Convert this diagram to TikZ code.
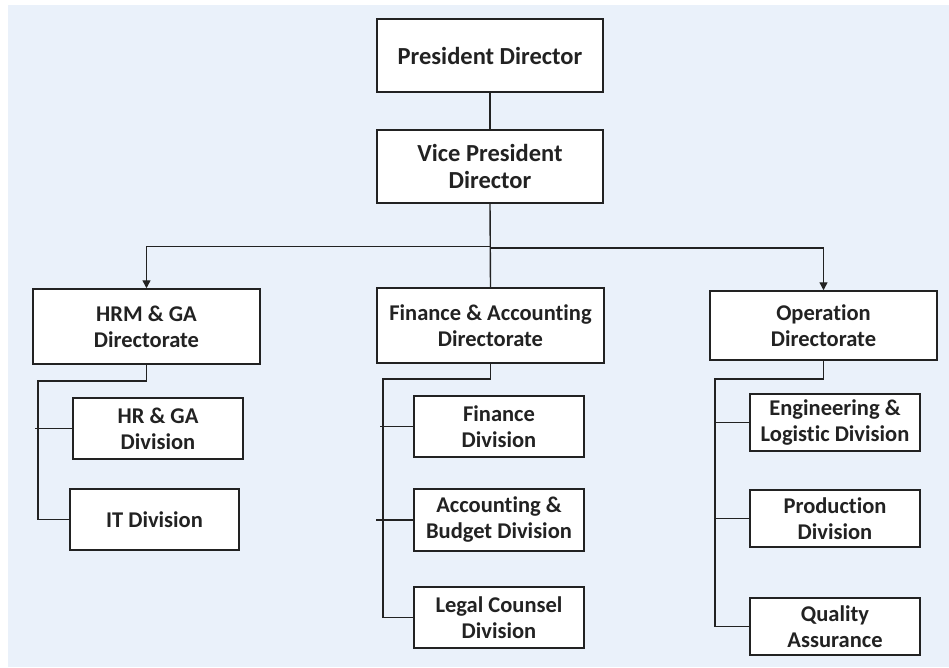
\documentclass[tikz,border=0pt]{standalone}
\usepackage{fontspec}
\setmainfont{Carlito}[Ligatures=NoCommon]
\usetikzlibrary{arrows.meta}
\definecolor{bgblue}{HTML}{EAF1FA}
\definecolor{ink}{HTML}{222222}
\tikzset{
  box/.style={draw=ink, line width=1.5pt, fill=white, text=ink, align=center, inner sep=0pt, font=\bfseries\fontsize{22.5}{26}\selectfont},
  bigbox/.style={box, font=\bfseries\fontsize{24.5}{27}\selectfont},
  conn/.style={draw=ink, line width=1.4pt},
  arr/.style={conn, -{Triangle[width=8pt,length=8pt]}}
}
\begin{document}
\begin{tikzpicture}[x=1pt,y=-1pt]
\useasboundingbox (0,0) rectangle (949,667);
\fill[bgblue] (8,5) rectangle (949,667);

\node[bigbox, minimum width=226pt, minimum height=73pt] (pd) at (490,55.5) {President Director};
\node[bigbox, minimum width=226pt, minimum height=73pt] (vp) at (490,166.5) {Vice President\\Director};

\node[box, minimum width=227pt, minimum height=75pt] (hrm) at (146.5,326.5) {HRM \& GA\\Directorate};
\node[box, minimum width=227pt, minimum height=75pt] (fa) at (490.5,325.5) {Finance \& Accounting\\Directorate};
\node[box, minimum width=227pt, minimum height=69pt] (op) at (823.5,325.5) {Operation\\Directorate};

\node[box, minimum width=170pt, minimum height=61pt] (hrd) at (158,428.5) {HR \& GA\\Division};
\node[box, minimum width=169pt, minimum height=61pt] (itd) at (154.5,519.5) {IT Division};

\node[box, minimum width=170pt, minimum height=61pt] (fin) at (499,426.5) {Finance\\Division};
\node[box, minimum width=170pt, minimum height=62pt] (acc) at (499,520) {Accounting \&\\Budget Division};
\node[box, minimum width=170pt, minimum height=61pt] (leg) at (499,617.5) {Legal Counsel\\Division};

\node[box, minimum width=170pt, minimum height=57pt] (eng) at (835,422.5) {Engineering \&\\Logistic Division};
\node[box, minimum width=170pt, minimum height=57pt] (prod) at (835,518.5) {Production\\Division};
\node[box, minimum width=170pt, minimum height=57pt] (qa) at (835,626.5) {Quality\\Assurance};

% top connectors
\draw[conn] (pd.south) -- (vp.north);
\draw[conn] (vp.south) -- (fa.north);
\coordinate (hbL) at (0,246.5);
\coordinate (hbR) at (0,248);
\draw[arr] (vp.south |- hbL) -| (hrm.north);
\draw[arr] (vp.south |- hbR) -| (op.north);

% left branch
\coordinate (lL) at (38,381);
\draw[conn] (hrm.south) |- (lL) |- (itd.west);
\draw[conn] ([xshift=-37pt]hrd.west) -- (hrd.west);

% middle branch
\coordinate (lM) at (383,379);
\draw[conn] (fa.south) |- (lM) |- (leg.west);
\draw[conn] ([xshift=-33pt]fin.west) -- (fin.west);
\draw[conn] ([xshift=-37pt]acc.west) -- (acc.west);

% right branch
\coordinate (lR) at (715,379);
\draw[conn] (op.south) |- (lR) |- (qa.west);
\draw[conn] ([xshift=-35pt]eng.west) -- (eng.west);
\draw[conn] ([xshift=-35pt]prod.west) -- (prod.west);
\end{tikzpicture}
\end{document}
